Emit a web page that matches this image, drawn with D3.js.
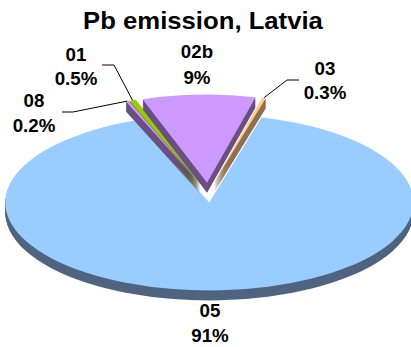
<!DOCTYPE html>
<html>
<head>
<meta charset="utf-8">
<script src="https://cdnjs.cloudflare.com/ajax/libs/d3/7.8.5/d3.min.js"></script>
<style>
    html, body { margin: 0; padding: 0; background: #fff; }
    svg { display: block; }
    text { font-family: "Liberation Sans", Arial, sans-serif; font-weight: bold; fill: #000; }
</style>
</head>
<body>
<script>
    // data
    const sectors = ["08", "01", "02b", "03", "05"];
    const shares = [0.25, 0.55, 9, 0.3, 90.5];
    const shareLabels = ["0.2%", "0.5%", "9%", "0.3%", "91%"];
    const topColors = ["#CC99FF", "#99CC00", "#CC99FF", "#FFCC99", "#99CCFF"];
    const wallColors = ["#6A5080", "#506A00", "#6A5080", "#8F7050", "#506480"];

    const width = 411, height = 347;
    const cx = 208, cy = 192.6;
    const rx = 204, tilt = 88 / 204;
    const explode = 23, depth = 10;
    const startDeg = -21.3;
    const textStretch = 1.07; // the original text is a bit wider than the font

    // label placement: centre x, baseline of first and second row
    const labelPos = {
        "08": [34, 107, 132],
        "01": [76, 61, 85],
        "02b": [197, 58, 84],
        "03": [325, 75, 99],
        "05": [210, 317, 342]
    };
    // elbow of each leader line: free end, then bend
    const leaders = {
        "08": [[62, 112], [73, 112]],
        "01": [[102, 65], [114, 65]],
        "03": [[299, 80], [287, 80]]
    };

    const svg = d3.select("body").append("svg")
        .attr("width", width)
        .attr("height", height);

    const pie = d3.pie()
        .sort(null)
        .startAngle(startDeg * Math.PI / 180)
        .endAngle((startDeg + 360) * Math.PI / 180);

    const arc = d3.arc().innerRadius(0).outerRadius(rx);

    const slices = pie(shares).map(function (d, i) {
        d.name = sectors[i];
        d.mid = (d.startAngle + d.endAngle) / 2;
        d.dx = explode * Math.sin(d.mid);
        d.dy = -explode * Math.cos(d.mid);
        return d;
    });

    function place(d, down) {
        return "translate(" + (cx + d.dx) + "," + (cy + d.dy * tilt + down) + ") scale(1," + tilt + ")";
    }

    // back to front: big slice, then the pulled out ones
    const drawOrder = [4, 1, 0, 3, 2];
    drawOrder.forEach(function (i) {
        const d = slices[i];
        const g = svg.append("g");
        g.selectAll("path.wall")
            .data(d3.range(depth, 0, -1))
            .enter()
            .append("path")
            .attr("class", "wall")
            .attr("d", arc(d))
            .attr("fill", wallColors[i])
            .attr("transform", function (k) { return place(d, k); });
        g.append("path")
            .attr("d", arc(d))
            .attr("fill", topColors[i])
            .attr("transform", place(d, 0));
    });

    // leader lines end on the rim of their slice
    const line = d3.line();
    slices.forEach(function (d) {
        if (!leaders[d.name]) return;
        const rimX = cx + d.dx + rx * Math.sin(d.mid);
        const rimY = cy + (d.dy - rx * Math.cos(d.mid)) * tilt;
        svg.append("path")
            .attr("d", line(leaders[d.name].concat([[rimX, rimY]])))
            .attr("fill", "none")
            .attr("stroke", "#000")
            .attr("stroke-width", 1);
    });

    function addText(x, y, size, str) {
        const t = svg.append("text")
            .attr("x", x).attr("y", y)
            .attr("text-anchor", "middle")
            .style("font-size", size + "px")
            .text(str);
        t.attr("textLength", t.node().getComputedTextLength() * textStretch)
            .attr("lengthAdjust", "spacingAndGlyphs");
    }

    slices.forEach(function (d, i) {
        const p = labelPos[d.name];
        addText(p[0], p[1], 17.5, d.name);
        addText(p[0], p[2], 17.5, shareLabels[i]);
    });

    addText(203, 29, 24, "Pb emission, Latvia");
</script>
</body>
</html>
